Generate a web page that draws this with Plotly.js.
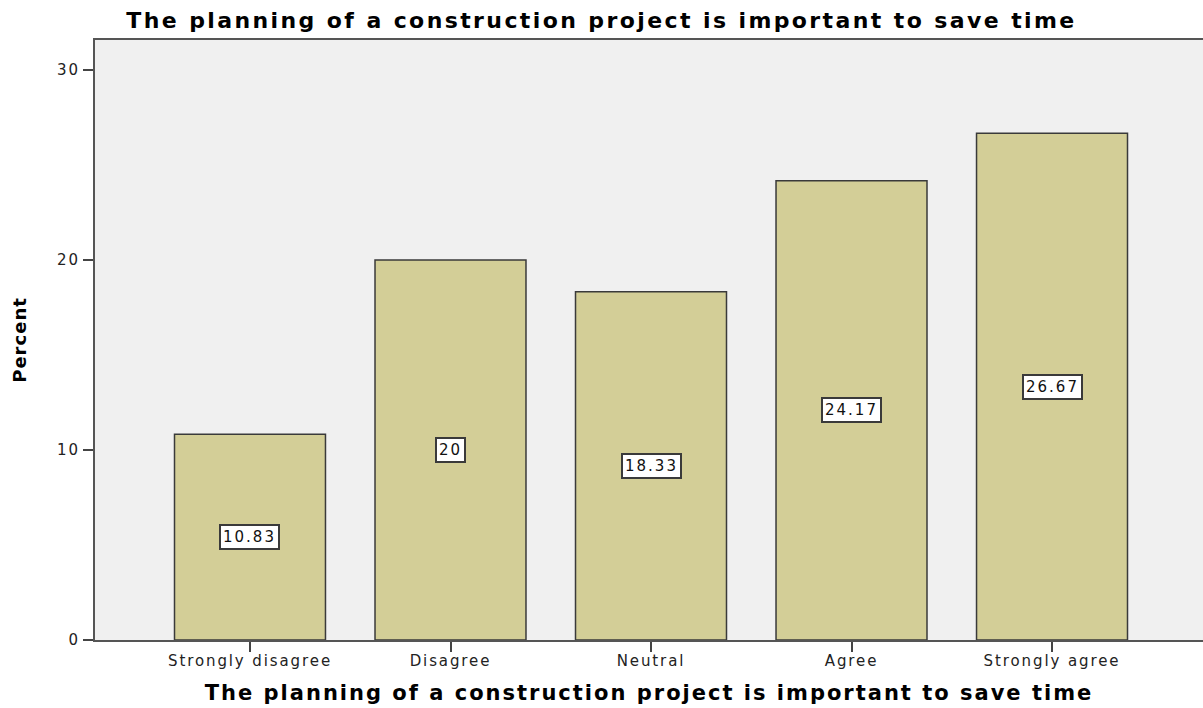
<!DOCTYPE html>
<html>
<head>
<meta charset="utf-8">
<script src="https://cdn.plot.ly/plotly-3.0.1.min.js"></script>
<style>
html,body{margin:0;padding:0;background:#fff;}
#chart{width:1203px;height:708px;}
.gtitle{letter-spacing:2.4px;}
.xtitle{letter-spacing:2px;}
.ytitle{letter-spacing:1px;}
.xtick text{letter-spacing:1.9px;}
.ytick text{letter-spacing:2px;}
.annotation-text{letter-spacing:2px;}
</style>
</head>
<body>
<div id="chart"></div>
<script>
const categories = ["Strongly disagree", "Disagree", "Neutral", "Agree", "Strongly agree"];
const percents = [10.83, 20, 18.33, 24.17, 26.67];
const labelTexts = ["10.83", "20", "18.33", "24.17", "26.67"];
const yTicks = [0, 10, 20, 30];
const chartTitle = "The planning of a construction project is important to save time";

const trace = {
  type: "bar",
  x: categories,
  y: percents,
  width: 0.753,
  marker: {color: "#D3CE97", line: {color: "#3a3a3a", width: 1.5}},
  hoverinfo: "x+y"
};

const annotations = categories.map((c, i) => ({
  x: c, y: percents[i] / 2, xref: "x", yref: "y",
  text: labelTexts[i], showarrow: false,
  font: {family: "DejaVu Sans, Verdana, sans-serif", size: 15, color: "#111"},
  bgcolor: "#ffffff", bordercolor: "#3a3a3a", borderwidth: 2, borderpad: 2
}));

const layout = {
  width: 1203, height: 708,
  margin: {l: 95, r: 0, t: 40, b: 68},
  paper_bgcolor: "#ffffff",
  plot_bgcolor: "#F0F0F0",
  showlegend: false,
  title: {
    text: chartTitle,
    font: {family: "DejaVu Sans, Verdana, sans-serif", size: 22, color: "#000", weight: "bold"},
    x: 0.5, xref: "container", xanchor: "center",
    y: 1 - 20 / 708, yref: "container", yanchor: "middle"
  },
  xaxis: {
    type: "category",
    range: [-0.773, 4.753],
    showline: true, linecolor: "#555", linewidth: 2, mirror: true,
    ticks: "outside", ticklen: 10, tickcolor: "#444", tickwidth: 2,
    ticklabelstandoff: -4,
    tickfont: {family: "DejaVu Sans, Verdana, sans-serif", size: 15, color: "#222"},
    showgrid: false, zeroline: false,
    title: {text: chartTitle, standoff: 16,
      font: {family: "DejaVu Sans, Verdana, sans-serif", size: 21, color: "#000", weight: "bold"}}
  },
  yaxis: {
    range: [0, 31.58],
    tickvals: yTicks,
    showline: true, linecolor: "#555", linewidth: 2, mirror: true,
    ticks: "outside", ticklen: 10, tickcolor: "#444", tickwidth: 2,
    tickfont: {family: "DejaVu Sans, Verdana, sans-serif", size: 15, color: "#222"},
    showgrid: false, zeroline: false,
    title: {text: "Percent", standoff: 26,
      font: {family: "DejaVu Sans, Verdana, sans-serif", size: 18, color: "#000", weight: "bold"}}
  },
  annotations: annotations
};

Plotly.newPlot("chart", [trace], layout, {displayModeBar: false});
</script>
</body>
</html>
